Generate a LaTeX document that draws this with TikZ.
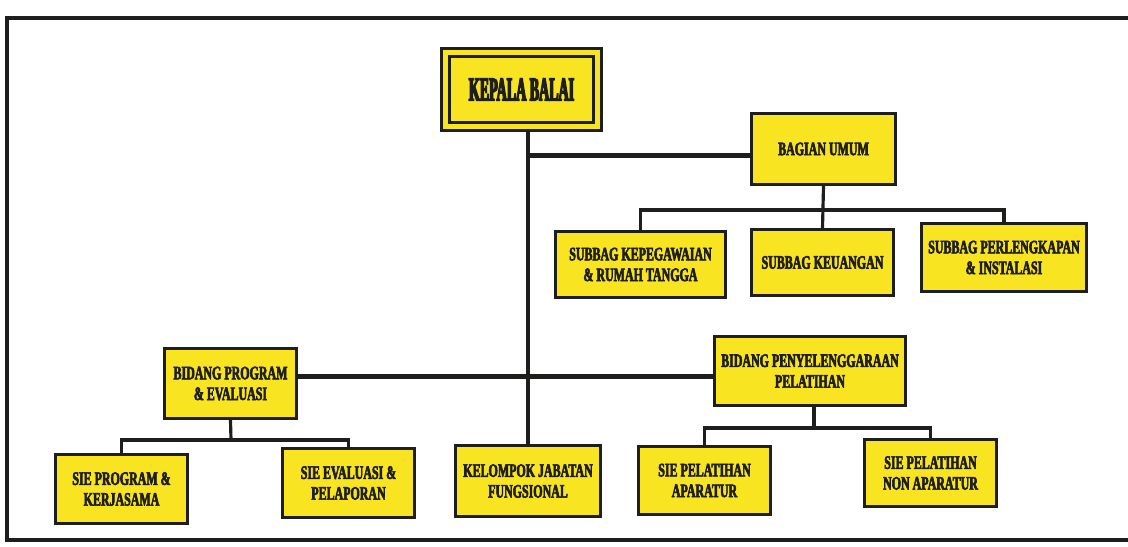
\documentclass[tikz,border=0pt]{standalone}
\usepackage{fontspec}
\usepackage{tikz}
\usetikzlibrary{backgrounds}
\newfontfamily\orgfont{Liberation Serif}[UprightFont={* Bold},FakeStretch=0.63,FakeBold=3]
\newfontfamily\topfont{Liberation Serif}[UprightFont={* Bold},FakeStretch=0.42,FakeBold=4]
\definecolor{boxyellow}{RGB}{248,228,32}
\definecolor{inkline}{RGB}{30,30,28}
\tikzset{
unit/.style={draw=inkline, line width=1.8pt, fill=boxyellow, inner sep=1pt, align=center,
  text=inkline, font=\orgfont\fontsize{10.8}{11.8}\selectfont},
topunit/.style={unit, double=boxyellow, double distance=2.8pt, font=\topfont\fontsize{19}{21}\selectfont},
mainline/.style={draw=inkline, line width=2.4pt},
subline/.style={draw=inkline, line width=1.8pt}
}

\begin{document}
\begin{tikzpicture}[x=0.02cm, y=-0.02cm]
\useasboundingbox (0,0) rectangle (1128,547);
\node[topunit, minimum width=3.03cm, minimum height=1.47cm] (kepala) at (521.5,89.5) {KEPALA BALAI};
\node[unit, minimum width=2.88cm, minimum height=1.42cm] (bagian) at (823.5,149) {BAGIAN UMUM};
\node[unit, minimum width=3.40cm, minimum height=1.32cm] (kepeg) at (640.5,264.5) {SUBBAG KEPEGAWAIAN\\\& RUMAH TANGGA};
\node[unit, minimum width=2.84cm, minimum height=1.32cm] (keuangan) at (822.5,262.5) {SUBBAG KEUANGAN};
\node[unit, minimum width=3.30cm, minimum height=1.36cm] (perleng) at (1004,257.5) {SUBBAG PERLENGKAPAN\\\& INSTALASI};
\node[unit, minimum width=2.64cm, minimum height=1.40cm] (bidprog) at (230.5,383.5) {BIDANG PROGRAM\\\& EVALUASI};
\node[unit, minimum width=3.82cm, minimum height=1.38cm] (bidpel) at (810,371) {BIDANG PENYELENGGARAAN\\PELATIHAN};
\node[unit, minimum width=2.64cm, minimum height=1.38cm] (sieprog) at (121.5,489) {SIE PROGRAM \&\\KERJASAMA};
\node[unit, minimum width=2.64cm, minimum height=1.38cm] (sieeval) at (348.5,483) {SIE EVALUASI \&\\PELAPORAN};
\node[unit, minimum width=2.90cm, minimum height=1.42cm] (kelompok) at (528,481) {KELOMPOK JABATAN\\FUNGSIONAL};
\node[unit, minimum width=2.64cm, minimum height=1.36cm] (sieapar) at (704.5,480.5) {SIE PELATIHAN\\APARATUR};
\node[unit, minimum width=2.64cm, minimum height=1.34cm] (sienon) at (930.5,473) {SIE PELATIHAN\\NON APARATUR};
\coordinate (bagbar) at (823,210);
\coordinate (progbar) at (231,440);
\coordinate (pelbar) at (814,428);
\begin{scope}[on background layer]
\draw[mainline, line width=2.3pt] (7,18) rectangle (1140,540);
\draw[mainline] (kelompok.north) -- (kelompok.north |- kepala.south);
\draw[mainline] (bagian.185) -- (bagian.185 -| kelompok.north);
\draw[mainline] (bidprog.6) -- (bidprog.6 -| bidpel.west);
\draw[subline] (bagian.south) -- (keuangan.north);
\draw[subline] (kepeg.north) |- (bagbar) -| (perleng.north);
\draw[subline] (bidprog.south) -- (progbar);
\draw[subline] (sieprog.north) |- (progbar) -| (sieeval.north);
\draw[subline] (bidpel.south -| pelbar) -- (pelbar);
\draw[subline] (sieapar.north) |- (pelbar) -| (sienon.north);
\end{scope}
\end{tikzpicture}
\end{document}
